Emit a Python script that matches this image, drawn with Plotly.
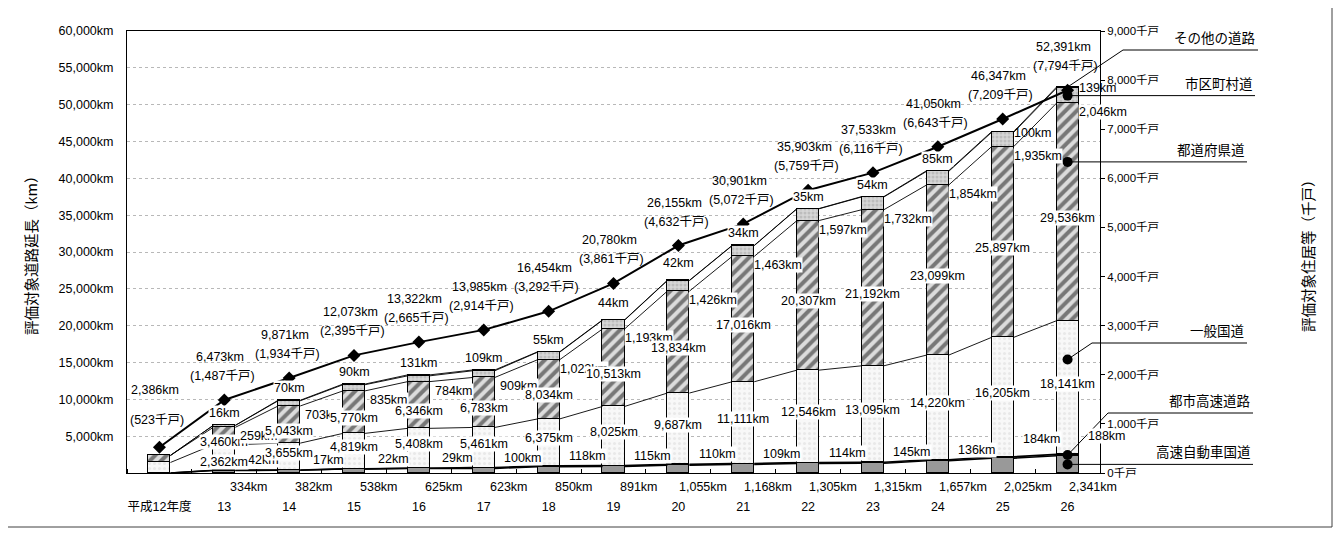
import plotly.graph_objects as go

# ---------------- data ----------------
years = ["平成12年度", "13", "14", "15", "16", "17", "18", "19", "20",
         "21", "22", "23", "24", "25", "26"]
expressway = [0, 334, 382, 538, 625, 623, 850, 891, 1055, 1168, 1305, 1315, 1657, 2025, 2341]
urban = [0, 42, 17, 22, 29, 100, 118, 115, 110, 109, 114, 145, 136, 184, 188]
national = [1430, 3460, 3655, 4819, 5408, 5461, 6375, 8025, 9687, 11111, 12546, 13095, 14220, 16205, 18141]
prefectural = [956, 2362, 5043, 5770, 6346, 6783, 8034, 10513, 13834, 17016, 20307, 21192, 23099, 25897, 29536]
municipal = [0, 259, 703, 835, 784, 909, 1022, 1193, 1426, 1463, 1597, 1732, 1854, 1935, 2046]
other = [0, 16, 70, 90, 131, 109, 55, 44, 42, 34, 35, 54, 85, 100, 139]
total = [2386, 6473, 9871, 12073, 13322, 13985, 16454, 20780, 26155, 30901, 35903, 37533, 41050, 46347, 52391]
households = [523, 1487, 1934, 2395, 2665, 2914, 3292, 3861, 4632, 5072, 5759, 6116, 6643, 7209, 7794]
series_names = ["高速自動車国道", "都市高速道路", "一般国道", "都道府県道", "市区町村道", "その他の道路"]
left_ticks = list(range(5000, 60001, 5000))
right_ticks = list(range(0, 9001, 1000))

# ---------------- layout constants ----------------
OFF = 8                                      # default page body margin
FW, FH = 1341 - 2 * OFF, 536 - 2 * OFF        # figure size that fits the window
PL, PR, PT, PB = 127, 1100, 31, 473          # plot area, in window pixels
X_RANGE = [-0.5, len(years) - 0.5]
Y_RANGE = [0, 60000]
Y2_RANGE = [0, 9000]
BAR_W = 0.34
FONT = "Arial, 'Liberation Sans', 'Noto Sans CJK JP', sans-serif"
JFONT = "'Noto Sans CJK JP', Arial, sans-serif"


def ppx(px):   # window pixel x -> paper
    return (px - PL) / (PR - PL)


def ppy(py):   # window pixel y -> paper
    return (PB - py) / (PB - PT)


def dpx(x):    # data x -> paper
    return (x - X_RANGE[0]) / (X_RANGE[1] - X_RANGE[0])


def dpy(y):    # data y -> paper
    return (y - Y_RANGE[0]) / (Y_RANGE[1] - Y_RANGE[0])


idx = list(range(len(years)))
segs = [expressway, urban, national, prefectural, municipal, other]
cum = []
run = [0] * len(years)
for s in segs:
    run = [a + b for a, b in zip(run, s)]
    cum.append(run)
bottoms = [[0] * len(years)] + cum[:-1]

styles = [
    dict(color="#999999"),
    dict(color="#000000"),
    dict(color="#f3f3f3", pattern=dict(shape=".", fgcolor="#dadada", bgcolor="#f8f8f8", size=5, solidity=0.3)),
    dict(color="#d8d8d8", pattern=dict(shape="/", fgcolor="#111111", bgcolor="#dcdcdc", size=8, solidity=0.5)),
    dict(color="#cccccc", pattern=dict(shape=".", fgcolor="#a4a4a4", bgcolor="#d6d6d6", size=4, solidity=0.45)),
    dict(color="#8a8a8a"),
]

fig = go.Figure()
for name, s, st in zip(series_names, segs, styles):
    fig.add_trace(go.Bar(x=idx, y=s, name=name, width=BAR_W,
                         marker=dict(line=dict(color="black", width=1), **st),
                         showlegend=False, hoverinfo="skip"))

# series lines between bars (connect tops of each stacked segment)
for k, c in enumerate(cum):
    xs, ys = [], []
    for i in range(len(years) - 1):
        xs += [i + BAR_W / 2, i + 1 - BAR_W / 2, None]
        ys += [c[i], c[i + 1], None]
    fig.add_trace(go.Scatter(x=xs, y=ys, mode="lines",
                             line=dict(color="black", width=1.6 if k < 2 else 0.9),
                             showlegend=False, hoverinfo="skip"))

# households line (right axis)
fig.add_trace(go.Scatter(x=idx, y=households, yaxis="y2", mode="lines+markers",
                         line=dict(color="black", width=2),
                         marker=dict(symbol="diamond", size=10, color="black"),
                         showlegend=False, hoverinfo="skip"))

# leader-line dots on the last bar
last = len(years) - 1
dot_y = [
    expressway[last] / 2,
    cum[0][last] + urban[last] / 2,
    cum[1][last] + national[last] * 0.71,
    cum[2][last] + prefectural[last] * 0.73,
    cum[3][last] + municipal[last] / 2,
]
fig.add_trace(go.Scatter(x=[last] * len(dot_y), y=dot_y, mode="markers",
                         marker=dict(size=10, color="black"),
                         showlegend=False, hoverinfo="skip", cliponaxis=False))

ann = []
CLEAR = "rgba(0,0,0,0)"


def lab(text, x, y, xshift=0, yshift=0, yref="y", bg="white", size=12.5):
    ann.append(dict(text=text, x=x, y=y, xref="x", yref=yref, xshift=xshift, yshift=yshift,
                    showarrow=False, bgcolor=bg, borderpad=0,
                    xanchor="center", yanchor="middle",
                    font=dict(size=size, color="black", family=FONT)))


km = lambda v: f"{v:,}km"

for i in idx[1:]:
    # expressway (below axis)
    lab(km(expressway[i]), i, 0, xshift=25, yshift=-14, yref="paper", bg=CLEAR)
    # urban
    lab(km(urban[i]), i, cum[1][i], xshift=39, yshift=10 + (8 if i >= 13 else 0))
    # national
    lab(km(national[i]), i, (bottoms[2][i] + cum[2][i]) / 2, yshift=4 + (11 if i == 1 else 0))
    # prefectural
    lab(km(prefectural[i]), i, (bottoms[3][i] + cum[3][i]) / 2,
        yshift=(-26 if i == 1 else -6))
    # municipal
    lab(km(municipal[i]), i, cum[3][i], xshift=35, yshift=-9)
    # other
    if i >= 13:
        lab(km(other[i]), i, cum[5][i], xshift=30, yshift=-1, bg=CLEAR)
    else:
        lab(km(other[i]), i, cum[5][i], yshift=(17 if i in (7, 8) else 12))

# totals + households
for i in idx:
    lab(km(total[i]), i, households[i], yref="y2", xshift=-4,
        yshift=(57 if i == 0 else 43), bg=CLEAR)
    lab(f"({households[i]:,}千戸)", i, households[i], yref="y2", xshift=-2,
        yshift=(27 if i == 0 else 24), bg=CLEAR)

# axis titles
ann.append(dict(text="評価対象道路延長（km）", x=ppx(30), y=0.5, xref="paper", yref="paper",
                xanchor="center", yanchor="middle",
                textangle=-90, showarrow=False, font=dict(size=14.5, family=JFONT, color="black")))
ann.append(dict(text="評価対象住居等（千戸）", x=ppx(1307), y=0.5, xref="paper", yref="paper",
                xanchor="center", yanchor="middle",
                textangle=-90, showarrow=False, font=dict(size=14.5, family=JFONT, color="black")))

# leader lines to series names on the right
shapes = []
LW = dict(color="black", width=1)
x_last = dpx(last)
leaders = [
    # (name, dot paper y, elbow pixel (or None), end pixel x)
    ("その他の道路", dpy(total[last]), (1123, 50), 1258),
    ("市区町村道", dpy(dot_y[4]), None, 1255),
    ("都道府県道", dpy(dot_y[3]), None, 1247),
    ("一般国道", dpy(dot_y[2]), (1092, 343), 1247),
    ("都市高速道路", dpy(dot_y[1]), (1108, 413), 1253),
    ("高速自動車国道", dpy(dot_y[0]), None, 1253),
]
for name, yp, elbow, xend in leaders:
    if elbow is None:
        ex, ey = x_last, yp
    else:
        ex, ey = ppx(elbow[0]), ppy(elbow[1])
        shapes.append(dict(type="line", xref="paper", yref="paper", x0=x_last, y0=yp,
                           x1=ex, y1=ey, line=LW))
    shapes.append(dict(type="line", xref="paper", yref="paper", x0=ex, y0=ey,
                       x1=ppx(xend), y1=ey, line=LW))
    ann.append(dict(text=name, x=ppx(xend), y=ey, xref="paper", yref="paper",
                    xanchor="right", yanchor="bottom", yshift=1, showarrow=False,
                    font=dict(size=13.5, family=JFONT, color="black")))

# outer frame
shapes.append(dict(type="rect", xref="paper", yref="paper", x0=ppx(6), x1=ppx(1332),
                   y0=ppy(527), y1=ppy(7), line=dict(color="#404040", width=1),
                   fillcolor="rgba(0,0,0,0)", layer="below"))

fig.update_layout(
    width=FW, height=FH,
    margin=dict(l=PL - OFF, r=(OFF + FW) - PR, t=PT - OFF, b=(OFF + FH) - PB, pad=0),
    paper_bgcolor="white", plot_bgcolor="white",
    barmode="stack", bargap=0,
    font=dict(family=FONT, size=12, color="black"),
    xaxis=dict(range=X_RANGE, tickmode="array", tickvals=idx, ticktext=years,
               showline=True, linecolor="black", linewidth=1, mirror=True,
               ticks="", showgrid=False, zeroline=False, ticklabelstandoff=22,
               tickfont=dict(size=12.5, family=FONT),
               minor=dict(tick0=0.5, dtick=1, ticks="inside", ticklen=4,
                          tickcolor="black", showgrid=False)),
    yaxis=dict(range=Y_RANGE, tickmode="array", tickvals=left_ticks,
               ticktext=[f"{v:,}km" for v in left_ticks], showline=True, linecolor="black",
               linewidth=1, showgrid=True, gridcolor="#b8b8b8", griddash="dot",
               gridwidth=1, zeroline=False, ticks="", ticklabelstandoff=10,
               tickfont=dict(size=12.5, family=FONT)),
    yaxis2=dict(range=Y2_RANGE, overlaying="y", side="right",
                tickmode="array", tickvals=right_ticks,
                ticktext=[f"{v:,}千戸" for v in right_ticks], showline=True, linecolor="black",
                linewidth=1, showgrid=False, zeroline=False, ticks="outside",
                ticklen=4, tickcolor="black", tickfont=dict(size=11.5, family=FONT)),
    annotations=ann,
    shapes=shapes,
    showlegend=False,
)

fig.write_html("out.html")
